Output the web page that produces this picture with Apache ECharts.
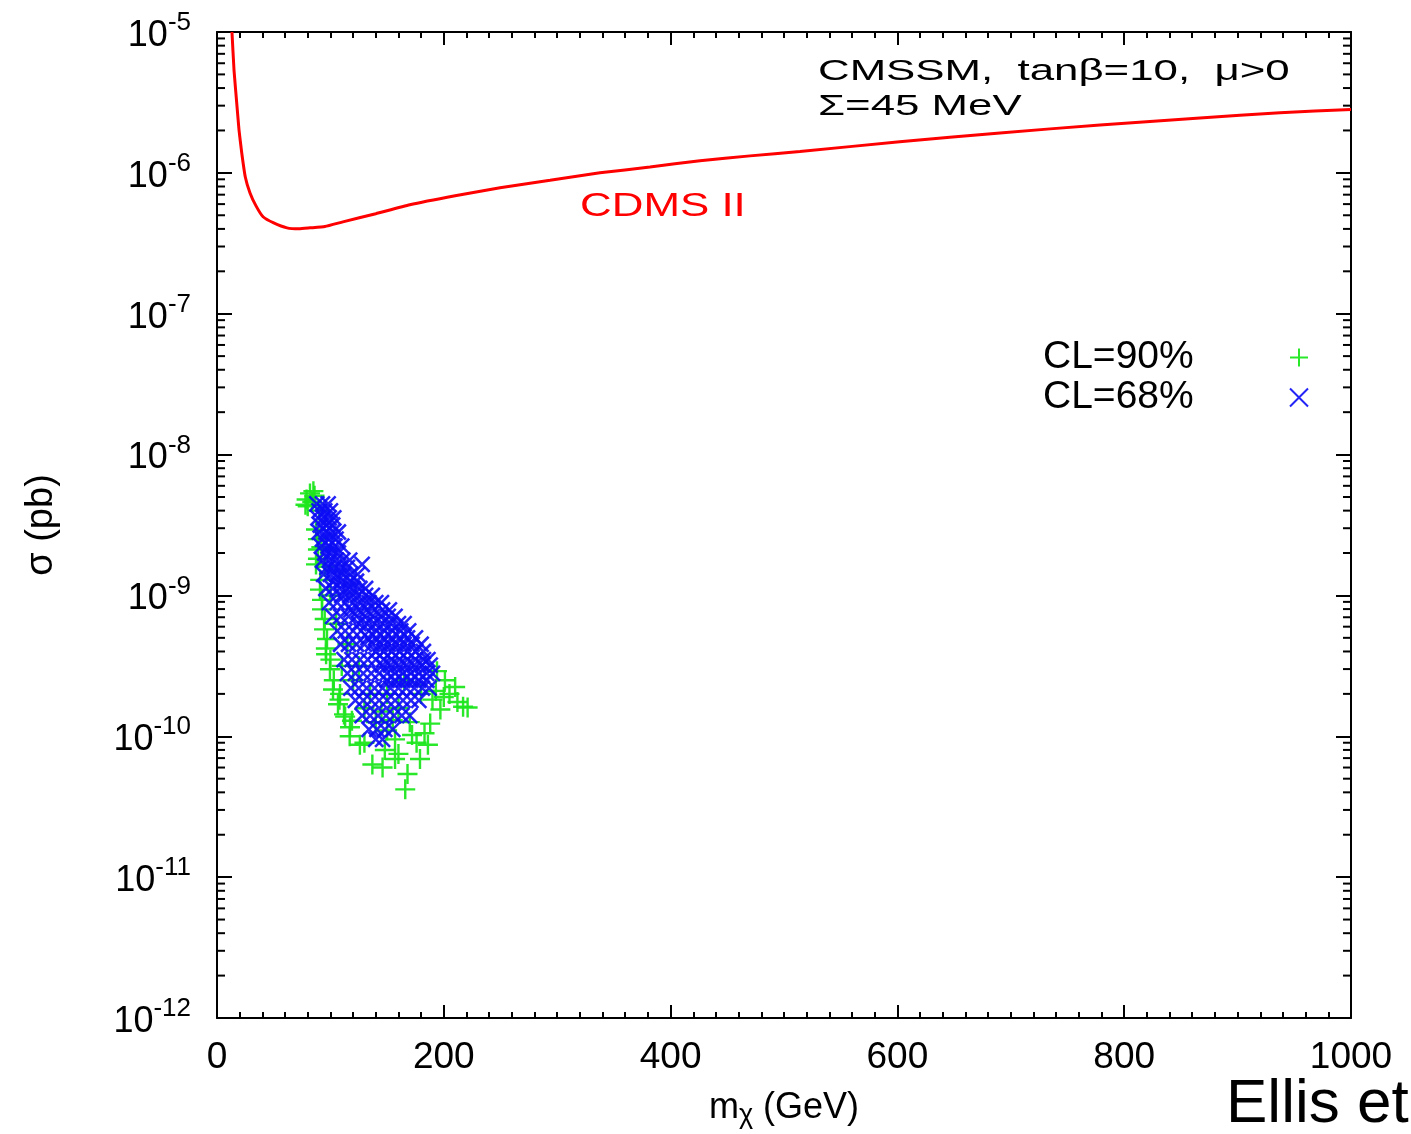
<!DOCTYPE html>
<html>
<head>
<meta charset="utf-8">
<script src="https://cdn.jsdelivr.net/npm/echarts@6/dist/echarts.min.js"></script>
<style>
html,body{margin:0;padding:0;background:#fff;}
#chart{width:1411px;height:1134px;}
</style>
</head>
<body>
<div id="chart"></div>
<script>
// ---------------- data ----------------
const xTicks = [0, 200, 400, 600, 800, 1000];
const yTickExponents = [-12, -11, -10, -9, -8, -7, -6, -5];
const minorMultipliers = [2, 3, 4, 5, 6, 7, 8, 9];

// CDMS II limit curve (mass GeV, sigma pb)
const cdmsMass  = [13.2, 15.0, 17.4, 19.4, 21.8, 25.0, 29.1, 34.4, 40.6, 50, 61.7, 72.3, 82, 95.2, 111, 140, 170, 210, 249.6, 293.7, 337.7, 381.8, 425.9, 470, 514, 602, 690.5, 778.7, 866.8, 937.4, 1000];
const cdmsSigma = [1.0e-5, 5.37e-6, 3.13e-6, 2.02e-6, 1.39e-6, 9.3e-7, 7.2e-7, 5.83e-7, 4.88e-7, 4.41e-7, 4.07e-7, 4.01e-7, 4.07e-7, 4.16e-7, 4.49e-7, 5.13e-7, 5.93e-7, 6.87e-7, 7.83e-7, 8.85e-7, 1.0e-6, 1.10e-6, 1.22e-6, 1.32e-6, 1.42e-6, 1.66e-6, 1.92e-6, 2.19e-6, 2.45e-6, 2.67e-6, 2.82e-6];

// CL = 90% points (green +)
const cl90Points = [
  [79,4.8e-9],[82,5.3e-9],[80,4.3e-9],[84,4.6e-9],[86,5.1e-9],[78,4.4e-9],[85,5.5e-9],[90,4.0e-9],
  [87.3,2.94e-9],[89,2.12e-9],[87.3,1.66e-9],[90.8,1.10e-9],[92.6,7.96e-10],[94.4,5.74e-10],[96.2,3.82e-10],
  [99.6,2.99e-10],[102.3,2.15e-10],[106.7,1.69e-10],[112,1.43e-10],[117.3,1.16e-10],
  [89,2.51e-9],[89,1.82e-9],[91,1.29e-9],[92.6,9.3e-10],[95,6.8e-10],[97,4.9e-10],[100,3.5e-10],
  [103,2.5e-10],[108,1.82e-10],[113,1.38e-10],[117,1.0e-10],[126,8.7e-11],[137,6.3e-11],[146,6.0e-11],
  [157,6.9e-11],[166,4.2e-11],[168,5.4e-11],[179,6.9e-11],[186,8.7e-11],[188,1.23e-10],[197,1.55e-10],
  [205,2.0e-10],[217,1.62e-10],[221,1.6e-10],[210,2.24e-10],[201,2.5e-10],[194,2.9e-10],[190,1.82e-10],
  [172,1.02e-10],[157,9.5e-11],[119,1.29e-10],[108.5,2.0e-10],[96,4.2e-10],
  [110,3.16e-10],[120,2.5e-10],[130,1.58e-10],[140,1.26e-10],[105,6.3e-10],[115,4.5e-10],[125,3.16e-10],
  [100,1.0e-9],[150,2.0e-10],[160,1.58e-10],[170,1.26e-10],[180,2.0e-10],[165,2.5e-10],[95,1.6e-9],
  [92,2.2e-9],[150,1.1e-10],[135,2.0e-10],[145,1.5e-10],[155,1.3e-10],[200,1.9e-10],[212,1.75e-10],
  [130,9.0e-11],[148,8.0e-11],[160,7.5e-11],[176,9.0e-11],[183,1.05e-10],[193,2.1e-10]
];

// CL = 68% points (blue x)
const cl68Points = [
  [88,4.47e-9],[93,4.47e-9],[98,4.47e-9],
  [90,3.98e-9],[95,3.98e-9],[100,3.98e-9],
  [89,3.55e-9],[94,3.55e-9],[99,3.55e-9],[103,3.55e-9],
  [91,3.16e-9],[97,3.16e-9],[102,3.16e-9],
  [90,2.82e-9],[96,2.82e-9],[102,2.82e-9],[107,2.82e-9],
  [93,2.51e-9],[99,2.51e-9],[105,2.51e-9],
  [92,2.24e-9],[98,2.24e-9],[104,2.24e-9],[110,2.24e-9],
  [95,2.0e-9],[101,2.0e-9],[107,2.0e-9],
  [93,1.78e-9],[99,1.78e-9],[105,1.78e-9],[111,1.78e-9],[117,1.78e-9],
  [97,1.58e-9],[103,1.58e-9],[109,1.58e-9],[115,1.58e-9],
  [94,1.41e-9],[100,1.41e-9],[106,1.41e-9],[112,1.41e-9],[118,1.41e-9],[124,1.41e-9],
  [103,1.26e-9],[110,1.26e-9],[117,1.26e-9],[123,1.26e-9],
  [96,1.12e-9],[102,1.12e-9],[108,1.12e-9],[114,1.12e-9],[120,1.12e-9],[126,1.12e-9],[131,1.12e-9],
  [110,1.0e-9],[117,1.0e-9],[124,1.0e-9],[131,1.0e-9],[137,1.0e-9],
  [99,8.9e-10],[106,8.9e-10],[113,8.9e-10],[120,8.9e-10],[127,8.9e-10],[134,8.9e-10],[140,8.9e-10],[145,8.9e-10],
  [118,7.9e-10],[125,7.9e-10],[132,7.9e-10],[139,7.9e-10],[146,7.9e-10],[152,7.9e-10],
  [102,7.1e-10],[109,7.1e-10],[116,7.1e-10],[123,7.1e-10],[130,7.1e-10],[137,7.1e-10],[144,7.1e-10],[151,7.1e-10],[157,7.1e-10],
  [125,6.3e-10],[132,6.3e-10],[139,6.3e-10],[146,6.3e-10],[153,6.3e-10],[160,6.3e-10],[165,6.3e-10],
  [106,5.6e-10],[113,5.6e-10],[120,5.6e-10],[127,5.6e-10],[134,5.6e-10],[141,5.6e-10],[148,5.6e-10],[155,5.6e-10],[162,5.6e-10],[169,5.6e-10],
  [133,5.0e-10],[140,5.0e-10],[147,5.0e-10],[154,5.0e-10],[161,5.0e-10],[168,5.0e-10],[175,5.0e-10],
  [109,4.5e-10],[116,4.5e-10],[123,4.5e-10],[130,4.5e-10],[137,4.5e-10],[144,4.5e-10],[151,4.5e-10],[158,4.5e-10],[165,4.5e-10],[172,4.5e-10],[180,4.5e-10],
  [140,4.0e-10],[147,4.0e-10],[154,4.0e-10],[161,4.0e-10],[168,4.0e-10],[175,4.0e-10],[182,4.0e-10],
  [112,3.5e-10],[119,3.5e-10],[126,3.5e-10],[133,3.5e-10],[140,3.5e-10],[147,3.5e-10],[154,3.5e-10],[161,3.5e-10],[168,3.5e-10],[175,3.5e-10],[182,3.5e-10],[186,3.5e-10],
  [146,3.2e-10],[153,3.2e-10],[160,3.2e-10],[167,3.2e-10],[174,3.2e-10],[181,3.2e-10],[188,3.2e-10],
  [115,2.8e-10],[122,2.8e-10],[129,2.8e-10],[136,2.8e-10],[143,2.8e-10],[150,2.8e-10],[157,2.8e-10],[164,2.8e-10],[171,2.8e-10],[178,2.8e-10],[185,2.8e-10],[190,2.8e-10],
  [150,2.5e-10],[157,2.5e-10],[164,2.5e-10],[171,2.5e-10],[178,2.5e-10],[185,2.5e-10],
  [118,2.2e-10],[125,2.2e-10],[132,2.2e-10],[139,2.2e-10],[146,2.2e-10],[153,2.2e-10],[160,2.2e-10],[167,2.2e-10],[174,2.2e-10],[181,2.2e-10],[187,2.2e-10],
  [122,1.8e-10],[129,1.8e-10],[136,1.8e-10],[143,1.8e-10],[150,1.8e-10],[157,1.8e-10],[164,1.8e-10],[171,1.8e-10],[178,1.8e-10],
  [128,1.4e-10],[135,1.4e-10],[142,1.4e-10],[149,1.4e-10],[156,1.4e-10],[163,1.4e-10],[170,1.4e-10],
  [134,1.12e-10],[141,1.12e-10],[148,1.12e-10],[155,1.12e-10],
  [140,9.5e-11],[146,9.5e-11],
  [128,1.66e-9]
];

// ---------------- chart ----------------
const FONT = 'Liberation Sans';
const minorTickValues = [];
yTickExponents.slice(0, -1).forEach(e => minorMultipliers.forEach(k => minorTickValues.push([0, k * Math.pow(10, e)])));

const chart = echarts.init(document.getElementById('chart'), null, {renderer: 'canvas'});

const plusPath = 'path://M0,5 L10,5 M5,0 L5,10';
const crossPath = 'path://M0,0 L10,10 M10,0 L0,10';

const xAxisCommon = {
  type: 'value', min: xTicks[0], max: xTicks[xTicks.length - 1], interval: 200,
  axisLine: {show: true, onZero: false, lineStyle: {color: '#000', width: 2}},
  axisTick: {show: true, inside: true, length: 13, lineStyle: {color: '#000', width: 2}},
  minorTick: {show: true, splitNumber: 10, length: 6, lineStyle: {color: '#000', width: 2}},
  splitLine: {show: false}
};
const yAxisCommon = {
  type: 'log', logBase: 10, min: 1e-12, max: 1e-5, interval: 1,
  axisLine: {show: true, onZero: false, lineStyle: {color: '#000', width: 2}},
  axisTick: {show: true, inside: true, length: 15, lineStyle: {color: '#000', width: 2}},
  minorTick: {show: false},
  splitLine: {show: false}
};

chart.setOption({
  animation: false,
  backgroundColor: '#fff',
  textStyle: {fontFamily: FONT, color: '#000'},
  grid: {left: 217, right: 60, top: 32, bottom: 115, containLabel: false},
  xAxis: [
    Object.assign({}, xAxisCommon, {
      position: 'bottom',
      axisLabel: {show: true, color: '#000', fontSize: 37, fontFamily: FONT, margin: 21,
        formatter: v => String(v)},
      name: 'm{sub|χ} (GeV)',
      nameLocation: 'middle', nameGap: 70,
      nameTextStyle: {color: '#000', fontSize: 36, fontFamily: FONT,
        rich: {sub: {fontSize: 27, fontFamily: FONT, color: '#000', verticalAlign: 'bottom', padding: [14, 0, 0, 0]}}}
    }),
    Object.assign({}, xAxisCommon, {position: 'top', axisLabel: {show: false}})
  ],
  yAxis: [
    Object.assign({}, yAxisCommon, {
      position: 'left',
      axisLabel: {
        show: true, margin: 26, color: '#000',
        formatter: v => '{b|10}{s|' + Math.round(Math.log10(v)) + '}',
        rich: {
          b: {fontSize: 36, fontFamily: FONT, color: '#000', verticalAlign: 'bottom', lineHeight: 36},
          s: {fontSize: 26, fontFamily: FONT, color: '#000', verticalAlign: 'top', padding: [0, 0, 18, 0]}
        }
      },
      name: 'σ (pb)', nameLocation: 'middle', nameGap: 156, nameRotate: 90,
      nameTextStyle: {color: '#000', fontSize: 38, fontFamily: FONT}
    }),
    Object.assign({}, yAxisCommon, {position: 'right', axisLabel: {show: false}})
  ],
  legend: {
    show: true, orient: 'vertical', left: 1038, top: 333, align: 'right',
    itemWidth: 18, itemHeight: 18, itemGap: 1,
    data: ['CL=90%', 'CL=68%'],
    formatter: n => '{t|' + n + '}',
    textStyle: {color: '#000', fontSize: 39, fontFamily: FONT,
      rich: {t: {width: 242, align: 'left', fontSize: 39, lineHeight: 38, fontFamily: FONT, color: '#000'}}}
  },
  series: [
    {
      name: 'CDMS II', type: 'line', xAxisIndex: 0, yAxisIndex: 0,
      data: cdmsMass.map((m, i) => [m, cdmsSigma[i]]),
      showSymbol: false, symbol: 'none', smooth: 0.15,
      lineStyle: {color: '#ff0000', width: 3},
      z: 3
    },
    {
      name: 'CL=90%', type: 'scatter', xAxisIndex: 0, yAxisIndex: 0,
      data: cl90Points, symbol: plusPath, symbolSize: 20,
      itemStyle: {color: 'rgba(0,0,0,0)', borderColor: '#1ee61e', borderWidth: 2.4, opacity: 0.95},
      z: 4
    },
    {
      name: 'CL=68%', type: 'scatter', xAxisIndex: 0, yAxisIndex: 0,
      data: cl68Points, symbol: crossPath, symbolSize: 15,
      itemStyle: {color: 'rgba(0,0,0,0)', borderColor: '#0c0cf5', borderWidth: 2.6, opacity: 0.9},
      z: 5
    },
    {
      name: 'yMinorTicks', type: 'custom', xAxisIndex: 0, yAxisIndex: 0,
      data: minorTickValues, clip: false, silent: true, z: 6,
      renderItem: (params, api) => {
        const v = api.value(1);
        const l = api.coord([xTicks[0], v]);
        const r = api.coord([xTicks[xTicks.length - 1], v]);
        const st = {stroke: '#000', lineWidth: 2};
        return {type: 'group', children: [
          {type: 'line', shape: {x1: l[0], y1: l[1], x2: l[0] + 8, y2: l[1]}, style: st},
          {type: 'line', shape: {x1: r[0] - 8, y1: r[1], x2: r[0], y2: r[1]}, style: st}
        ]};
      }
    }
  ],
  graphic: [
    {type: 'text', left: 818, top: 57, scaleX: 1.46,
      style: {text: 'CMSSM,  tanβ=10,  μ>0', fontSize: 30, fontFamily: FONT, fill: '#000'}},
    {type: 'text', left: 818, top: 92, scaleX: 1.46,
      style: {text: 'Σ=45 MeV', fontSize: 30, fontFamily: FONT, fill: '#000'}},
    {type: 'text', left: 580, top: 190, scaleX: 1.33,
      style: {text: 'CDMS II', fontSize: 33, fontFamily: FONT, fill: '#ff0000'}},
    {type: 'text', left: 1226, top: 1074,
      style: {text: 'Ellis et', fontSize: 62, fontFamily: FONT, fill: '#000'}}
  ]
});
</script>
</body>
</html>
